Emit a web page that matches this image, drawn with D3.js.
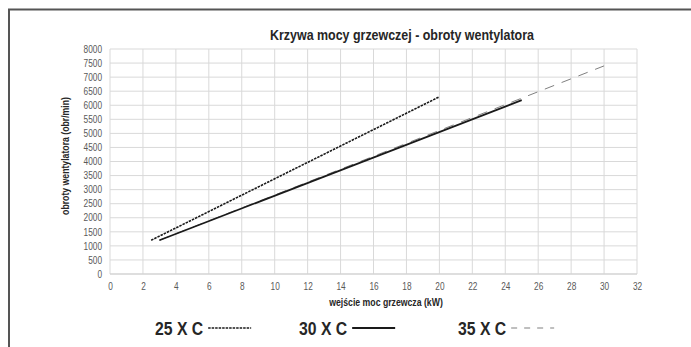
<!DOCTYPE html>
<html><head><meta charset="utf-8">
<script src="https://cdn.jsdelivr.net/npm/d3@7"></script>
<style>
body{margin:0;background:#fff;}
svg{display:block;}
text{font-family:"Liberation Sans",Arial,sans-serif;}
</style></head>
<body><svg id="c" width="691" height="347"></svg>
<script>
const title = "Krzywa mocy grzewczej - obroty wentylatora";
const xTitle = "wejście moc grzewcza (kW)";
const yTitle = "obroty wentylatora (obr/min)";
const xTicks = [0,2,4,6,8,10,12,14,16,18,20,22,24,26,28,30,32];
const yTicks = [0,500,1000,1500,2000,2500,3000,3500,4000,4500,5000,5500,6000,6500,7000,7500,8000];
const seriesNames = ["25 X C","30 X C","35 X C"];
const s25x = [2.5, 20];
const s25y = [1200, 6300];
const s30x = [3, 25];
const s30y = [1200, 6180];
const s35x = [3, 30];
const s35y = [1200, 7400];

const SX = 0.83; // narrow-font emulation
const svg = d3.select("#c");
const m = {l:110, r:637, t:49, b:274};
const x = d3.scaleLinear().domain([0,32]).range([m.l, m.r]);
const y = d3.scaleLinear().domain([0,8000]).range([m.b, m.t]);

function ntext(px, py, str, size, weight, anchor, rot){
  const g = svg.append("g").attr("transform",`translate(${px},${py})` + (rot?` rotate(${rot})`:"") + ` scale(${SX},1)`);
  return g.append("text").attr("text-anchor",anchor||"start")
    .style("font-size",size+"px").style("font-weight",weight||"normal").attr("fill","#262626").text(str);
}

// frame
svg.append("path").attr("d","M9,347 L9,9.5 L691,9.5").attr("fill","none").attr("stroke","#555").attr("stroke-width",2);

// grid
svg.append("g").selectAll("line").data(xTicks).join("line")
  .attr("x1",d=>x(d)).attr("x2",d=>x(d)).attr("y1",m.t).attr("y2",m.b)
  .attr("stroke","#d9d9d9").attr("stroke-width",1);
svg.append("g").selectAll("line").data(yTicks).join("line")
  .attr("x1",m.l).attr("x2",m.r).attr("y1",d=>y(d)).attr("y2",d=>y(d))
  .attr("stroke","#d9d9d9").attr("stroke-width",1);

// axes labels via d3 axes
const xa = svg.append("g").attr("transform",`translate(0,${m.b})`)
  .call(d3.axisBottom(x).tickValues(xTicks).tickSize(0).tickPadding(9));
const ya = svg.append("g").attr("transform",`translate(${m.l-8},0)`)
  .call(d3.axisLeft(y).tickValues(yTicks).tickSize(0).tickPadding(0).tickFormat(d3.format("d")));
[xa,ya].forEach(a=>{
  a.select(".domain").remove();
  a.selectAll("text").attr("fill","#595959").style("font-size","10px").attr("transform",`scale(${SX},1)`);
});
svg.append("line").attr("x1",m.l).attr("x2",m.r).attr("y1",m.b).attr("y2",m.b).attr("stroke","#d0d0d0");

// lines
const line = d3.line().x(d=>x(d[0])).y(d=>y(d[1]));
svg.append("path").datum(d3.zip(s35x,s35y)).attr("d",line).attr("fill","none")
  .attr("stroke","#808080").attr("stroke-width",1).attr("stroke-dasharray","10,8");
svg.append("path").datum(d3.zip(s30x,s30y)).attr("d",line).attr("fill","none")
  .attr("stroke","#1a1a1a").attr("stroke-width",1.8);
svg.append("path").datum(d3.zip(s25x,s25y)).attr("d",line).attr("fill","none")
  .attr("stroke","#1a1a1a").attr("stroke-width",1.6).attr("stroke-dasharray","2.5,1");

// titles
ntext(402, 40, title, 15, "bold", "middle");
ntext(386, 306, xTitle, 10.5, "bold", "middle");
ntext(69, 156, yTitle, 10.5, "bold", "middle", -90);

// legend
const legX = [155, 299, 458];
const legStyle = [
  {dash:"2.5,1", color:"#1a1a1a", w:1.6},
  {dash:null, color:"#1a1a1a", w:1.8},
  {dash:"6,7", color:"#808080", w:1.2}
];
seriesNames.forEach((n,i)=>{
  const t = ntext(legX[i], 335, n, 19, "bold", "start");
  const w = t.node().getComputedTextLength()*SX;
  const x0 = legX[i]+w+5;
  svg.append("line").attr("x1",x0).attr("x2",x0+43).attr("y1",328).attr("y2",328)
    .attr("stroke",legStyle[i].color).attr("stroke-width",legStyle[i].w)
    .attr("stroke-dasharray",legStyle[i].dash);
});
</script></body></html>
